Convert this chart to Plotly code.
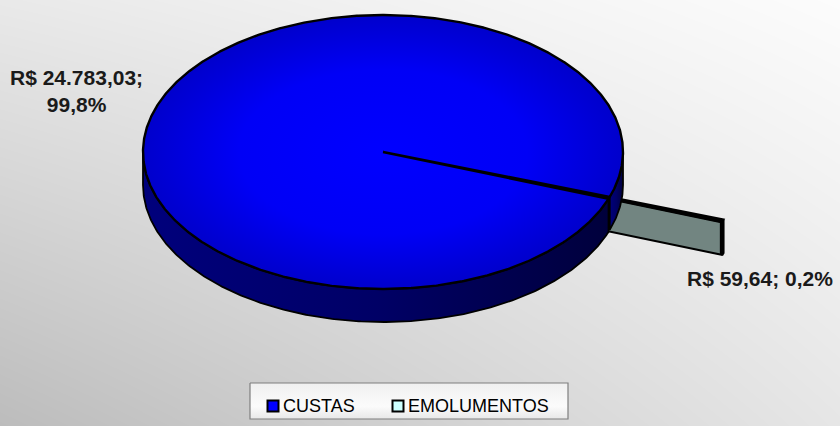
import numpy as np
import plotly.graph_objects as go

# ---------------- data ----------------
labels = ["CUSTAS", "EMOLUMENTOS"]
values = [24783.03, 59.64]

# ---------------- style ----------------
slice_colors = ["#0000ff", "#728581"]
legend_colors = ["#0000ff", "#ccffff"]
explode = [0.0, 0.5]
W, H = 840, 426
CX, CY, RX, RY, DEPTH = 383, 152, 240, 137, 33
START_DEG = 20.0
FONT = "Arial, Liberation Sans, sans-serif"
LEG_BOX = (250, 568, 383, 419)
LEG_SWATCH_X = [273, 398]
LEG_Y = 406

total = sum(values)
fracs = [v / total for v in values]
bounds = []
a = START_DEG
for f in fracs:
    bounds.append((a, a + 360.0 * f))
    a += 360.0 * f


def ell(theta, off=(0.0, 0.0), dz=0.0):
    t = np.radians(theta)
    return CX + off[0] + RX * np.cos(t), CY + off[1] + RY * np.sin(t) + dz


def arc(a0, a1, off=(0.0, 0.0), dz=0.0, n=None):
    if n is None:
        n = max(2, int(abs(a1 - a0) * 2) + 2)
    th = np.linspace(a0, a1, n)
    xs, ys = ell(th, off, dz)
    return list(xs), list(ys)


def br_money(v):
    s = f"{v:,.2f}"
    return "R$ " + s.replace(",", "X").replace(".", ",").replace("X", ".")


def br_pct(p):
    return f"{p * 100:.1f}".replace(".", ",") + "%"


fig = go.Figure()

# background gradient (diagonal, light top-right -> darker bottom-left)
fig.add_trace(go.Heatmap(
    x=[0, W], y=[0, H], z=[[233, 252], [188, 230]],
    zmin=0, zmax=255, zsmooth="best", showscale=False, hoverinfo="skip",
    colorscale=[[0, "rgb(0,0,0)"], [1, "rgb(255,255,255)"]],
))

# ---- exploded small slice (EMOLUMENTOS) ----
a0, a1 = bounds[1]
mid = np.radians((a0 + a1) / 2)
k = explode[1]
off = (k * RX * np.cos(mid), k * RY * np.sin(mid))
cxo, cyo = CX + off[0], CY + off[1]
rx2, ry2 = ell(a1, off)
fig.add_trace(go.Scatter(
    x=[cxo, rx2, rx2, cxo, cxo], y=[cyo, ry2, ry2 + DEPTH, cyo + DEPTH, cyo],
    fill="toself", fillcolor=slice_colors[1], mode="lines",
    line=dict(color="black", width=2), showlegend=False, hoverinfo="skip"))
xt, yt = arc(a0, a1, off)
xb, yb = arc(a1, a0, off, DEPTH)
fig.add_trace(go.Scatter(
    x=xt + xb + [xt[0]], y=yt + yb + [yt[0]],
    fill="toself", fillcolor="black", mode="lines",
    line=dict(color="black", width=3.5), showlegend=False, hoverinfo="skip"))
fig.add_trace(go.Scatter(
    x=[cxo] + xt + [cxo], y=[cyo] + yt + [cyo],
    fill="toself", fillcolor="black", mode="lines",
    line=dict(color="black", width=3), showlegend=False, hoverinfo="skip"))

# ---- big slice (CUSTAS) ----
b0, b1 = bounds[0]
side_grad = dict(type="horizontal",
                 colorscale=[[0, "#00007c"], [0.5, "#000066"], [1, "#00003c"]])
for s0, s1 in [(0.0, b1 - 360.0), (b0, 180.0)]:
    xt, yt = arc(s0, s1)
    xb, yb = arc(s1, s0, dz=DEPTH)
    fig.add_trace(go.Scatter(
        x=xt + xb + [xt[0]], y=yt + yb + [yt[0]],
        fill="toself", fillgradient=side_grad, mode="lines",
        line=dict(color="black", width=1.8), showlegend=False, hoverinfo="skip"))

xt, yt = arc(b0, b1, n=1000)
fig.add_trace(go.Scatter(
    x=[CX] + xt + [CX], y=[CY] + yt + [CY],
    fill="toself",
    fillgradient=dict(type="radial",
                      colorscale=[[0, "#0000ff"], [0.6, "#0000f6"], [1, "#0000cc"]]),
    mode="lines", line=dict(color="black", width=2.4),
    showlegend=False, hoverinfo="skip"))

# ---- legend (box, swatches, labels) ----
lx0, lx1, ly0, ly1 = LEG_BOX
fig.add_trace(go.Scatter(
    x=[lx0, lx1, lx1, lx0, lx0], y=[ly0, ly0, ly1, ly1, ly0],
    fill="toself",
    fillgradient=dict(type="vertical",
                      colorscale=[[0, "#e8e8e8"], [0.35, "#fbfbfb"], [1, "#f0f0f0"]]),
    mode="lines", line=dict(color="#7f7f7f", width=1.2),
    showlegend=False, hoverinfo="skip"))
fig.add_trace(go.Scatter(
    x=LEG_SWATCH_X, y=[LEG_Y] * len(labels), mode="markers",
    marker=dict(symbol="square", size=11, color=legend_colors,
                line=dict(color="black", width=2)),
    showlegend=False, hoverinfo="skip"))
for lab, sx in zip(labels, LEG_SWATCH_X):
    fig.add_annotation(
        x=sx + 8, y=LEG_Y, xref="x", yref="y", showarrow=False,
        xanchor="left", yanchor="middle", text=lab,
        font=dict(family=FONT, size=18, color="black"))

# ---- data labels ----
fig.add_annotation(
    x=76, y=91, xref="x", yref="y", showarrow=False, align="center",
    text=f"<b>{br_money(values[0])};<br>{br_pct(fracs[0])}</b>",
    font=dict(family=FONT, size=21, color="#1a1a1a"))
fig.add_annotation(
    x=760, y=278, xref="x", yref="y", showarrow=False,
    text=f"<b>{br_money(values[1])}; {br_pct(fracs[1])}</b>",
    font=dict(family=FONT, size=21, color="#1a1a1a"))

fig.update_layout(
    width=W, height=H, margin=dict(l=0, r=0, t=0, b=0),
    paper_bgcolor="#e6e6e6", plot_bgcolor="rgba(0,0,0,0)",
    xaxis=dict(range=[0, W], visible=False, fixedrange=True),
    yaxis=dict(range=[H, 0], visible=False, fixedrange=True),
    hovermode=False, showlegend=False,
)

fig.write_html("out.html", config={"displayModeBar": False},
               post_script="document.body.style.margin='0';document.body.style.overflow='hidden';")
